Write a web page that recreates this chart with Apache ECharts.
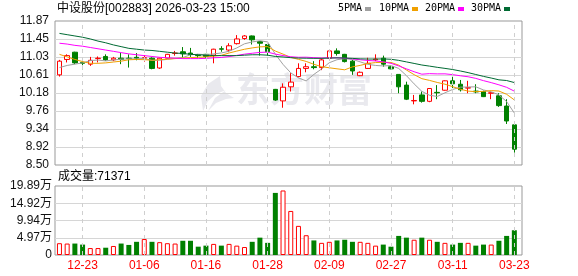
<!DOCTYPE html>
<html><head><meta charset="utf-8">
<script src="https://cdn.jsdelivr.net/npm/echarts@6/dist/echarts.min.js"></script>
<style>html,body{margin:0;padding:0;background:#fff}#c{width:578px;height:276px}</style>
</head><body><div id="c"></div>
<script>
const stockName = '中设股份';
const stockCode = '002883';
const stampText = '2026-03-23 15:00';
const lastVolume = 71371;

const dates = ['12-18','12-19','12-22','12-23','12-24','12-25','12-26','12-29','12-30','12-31',
  '01-05','01-06','01-07','01-08','01-09','01-12','01-13','01-14','01-15','01-16',
  '01-19','01-20','01-21','01-22','01-23','01-26','01-27','01-28','01-29','01-30',
  '02-02','02-03','02-04','02-05','02-06','02-09','02-10','02-11','02-12','02-13',
  '02-24','02-25','02-26','02-27','03-02','03-03','03-04','03-05','03-06','03-09',
  '03-10','03-11','03-12','03-13','03-16','03-17','03-18','03-19','03-20','03-23'];
const labelDates = ['12-23','01-06','01-16','01-28','02-09','02-27','03-11','03-23'];

const opens  = [10.61,10.97,11.14,10.90,10.86,10.99,11.04,10.96,11.00,11.00,
  11.02,11.00,11.00,10.77,11.00,11.11,11.15,11.12,11.07,11.09,
  11.07,11.22,11.19,11.34,11.46,11.52,11.39,11.32,10.27,10.00,
  10.33,10.57,10.76,10.80,10.78,11.00,11.17,11.09,10.93,10.59,
  10.76,10.96,11.00,10.80,10.62,10.37,10.00,10.14,9.99,10.20,
  10.25,10.47,10.39,10.30,10.23,10.22,10.18,10.12,9.88,9.44];
const closes = [10.93,11.06,10.89,10.88,10.95,11.00,10.96,11.00,10.97,10.99,
  11.00,11.01,10.76,11.00,11.09,11.12,11.10,11.09,11.06,11.04,
  11.21,11.21,11.29,11.45,11.52,11.43,11.35,11.15,10.02,10.32,
  10.44,10.76,10.80,10.78,10.96,11.17,11.11,10.92,10.70,10.67,
  10.88,10.98,10.86,10.75,10.33,10.04,10.01,9.99,10.29,10.19,
  10.47,10.40,10.26,10.31,10.21,10.10,10.19,9.89,9.53,8.87];
const lows   = [10.57,10.90,10.86,10.74,10.82,10.90,10.94,10.93,10.86,10.78,
  10.95,10.92,10.74,10.75,10.99,11.06,11.01,11.03,11.00,11.00,
  10.88,11.15,11.14,11.32,11.43,11.32,11.06,11.06,10.00,9.84,
  10.22,10.55,10.67,10.74,10.72,11.00,11.06,10.90,10.61,10.58,
  10.75,10.93,10.80,10.74,10.18,10.02,9.92,9.96,9.97,10.04,
  10.24,10.30,10.22,10.18,10.18,10.09,10.04,9.86,9.46,8.79];
const highs  = [10.96,11.09,11.15,10.92,11.03,11.04,11.09,11.03,11.12,11.09,
  11.12,11.07,11.02,11.01,11.10,11.17,11.26,11.24,11.10,11.10,
  11.22,11.28,11.35,11.54,11.54,11.53,11.39,11.39,10.28,10.41,
  10.65,10.88,10.88,10.93,11.00,11.17,11.23,11.10,10.96,10.69,
  11.01,11.09,11.06,10.81,10.62,10.45,10.14,10.22,10.30,10.37,
  10.48,10.57,10.49,10.47,10.39,10.24,10.20,10.18,10.04,9.44];

// volume in 万手
const volumes = [3.4,3.3,3.3,3.0,2.0,2.0,2.1,2.6,3.3,2.9,
  3.8,4.6,3.8,3.7,3.4,3.3,4.1,4.1,2.4,2.7,
  3.2,2.7,3.2,2.7,2.3,3.8,5.0,3.5,17.9,18.6,
  12.7,8.4,5.7,4.2,3.5,3.8,4.2,4.4,3.8,3.8,
  3.5,2.7,3.0,2.4,5.5,5.0,4.4,5.0,4.4,3.8,
  3.5,3.0,3.5,3.5,2.7,3.0,3.0,4.1,5.5,7.1371];

const ma5 = [10.78,10.83,10.86,10.89,10.942,10.956,10.936,10.958,10.976,10.984,
  10.984,10.994,10.946,10.952,10.972,10.996,11.014,11.08,11.092,11.082,
  11.10,11.122,11.162,11.24,11.336,11.38,11.408,11.38,11.094,10.854,
  10.656,10.538,10.468,10.62,10.748,10.894,10.964,10.988,10.972,10.914,
  10.856,10.83,10.818,10.828,10.76,10.592,10.398,10.224,10.132,10.104,
  10.19,10.268,10.322,10.326,10.33,10.256,10.214,10.14,9.984,9.716];
const ma10 = [11.09,11.03,10.97,10.92,10.88,10.88,10.89,10.91,10.93,10.963,
  10.970,10.965,10.952,10.964,10.978,10.990,11.004,11.013,11.022,11.027,
  11.048,11.068,11.121,11.166,11.209,11.24,11.265,11.271,11.167,11.095,
  11.018,10.973,10.924,10.857,10.801,10.775,10.751,10.728,10.796,10.831,
  10.875,10.897,10.903,10.90,10.837,10.724,10.614,10.521,10.48,10.432,
  10.391,10.333,10.273,10.229,10.217,10.223,10.241,10.231,10.155,10.023];
const ma20 = [11.35,11.33,11.30,11.28,11.25,11.22,11.19,11.16,11.13,11.10,
  11.08,11.06,11.04,11.02,11.01,11.00,10.99,10.99,10.99,10.995,
  11.009,11.017,11.037,11.065,11.094,11.115,11.135,11.142,11.095,11.061,
  11.033,11.021,11.023,11.012,11.005,11.008,11.008,11.00,10.982,10.963,
  10.947,10.935,10.914,10.879,10.819,10.75,10.683,10.625,10.638,10.632,
  10.633,10.615,10.588,10.565,10.527,10.474,10.428,10.376,10.318,10.228];
const ma30 = [11.58,11.55,11.52,11.49,11.45,11.40,11.36,11.31,11.27,11.23,
  11.21,11.19,11.18,11.16,11.14,11.12,11.11,11.09,11.08,11.07,
  11.06,11.06,11.06,11.06,11.07,11.08,11.08,11.07,11.04,11.028,
  11.012,11.002,10.999,10.996,10.996,11.002,11.007,11.004,10.995,10.984,
  10.98,10.979,10.983,10.974,10.949,10.913,10.877,10.84,10.814,10.786,
  10.761,10.734,10.70,10.662,10.618,10.574,10.535,10.493,10.477,10.429];

const priceMin = 8.50, priceMax = 11.87;
const priceTicks = ['8.50','8.92','9.34','9.76','10.18','10.61','11.03','11.45','11.87'];
const volMax = 19.89;
const volTicks = ['0','4.97万','9.94万','14.92万','19.89万'];
const maNames = ['5PMA','10PMA','20PMA','30PMA'];
const maColors = ['#a0a0a0','#f0a000','#ff00ff','#006a33'];

const UP = '#ff0000', DOWN = '#008000';
const chart = echarts.init(document.getElementById('c'), null, {renderer:'canvas'});

const fL = 55, fW = 467, dL = 55.6, dW = 462.6;
const mTop = 21, mH = 144, vTop = 186, vH = 69;
const pInt = (priceMax - priceMin) / 8, vInt = volMax / 4;
const candleData = opens.map((o, i) => [o, closes[i], lows[i], highs[i]]);
const volData = volumes.map((v, i) => {
  const up = closes[i] >= opens[i];
  return {value: v, itemStyle: up ? {color:'#fff', borderColor: UP, borderWidth: 1} : {color: DOWN, borderColor: DOWN, borderWidth: 0}};
});
const dashLine = (xi, yi) => ({
  type:'line', xAxisIndex: xi, yAxisIndex: yi, data: dates.map(() => '-'), z: 1, silent: true,
  markLine: {symbol:['none','none'], silent:true, animation:false, label:{show:false},
    lineStyle:{color:'#cfcfcf', width:1, type:[4,4]},
    data: labelDates.map(d => ({xAxis: d}))}
});
const txtFont = "'Liberation Sans','Noto Sans CJK SC',sans-serif";

const graphics = [
  {type:'text', x: 57, y: 3, style:{text: stockName + '[' + stockCode + '] ' + stampText, font: "12px " + txtFont, fill:'#000'}},
  {type:'text', x: 58, y: 171, style:{text: '成交量:' + lastVolume, font: "12px " + txtFont, fill:'#000'}},
  {type:'text', x: 236, y: 72, z: -1, style:{text:'东方财富', font: "bold 34px 'Noto Sans CJK SC'", fill:'#e9e9ee'}},
  {type:'polygon', z: -1, shape:{points:[[220,76],[208,84],[201,96],[203,111],[208,101],[216,94],[226,90],[215,98],[208,111],[216,103],[226,99],[234,98],[226,93],[221,86]]}, style:{fill:'#e9e9ee'}}
];
const legX = [338, 379, 425, 471];
maNames.forEach((n, k) => {
  graphics.push({type:'text', x: legX[k], y: 3, style:{text:n, font:"10px 'DejaVu Sans Mono'", fill:'#000'}});
  graphics.push({type:'rect', shape:{x: legX[k] + n.length*6 + 3, y: 7, width: 6, height: 4}, style:{fill: maColors[k]}});
});

chart.setOption({
  animation: false,
  backgroundColor: '#fff',
  grid: [
    {left: fL, top: mTop, width: fW, height: mH, show: true, borderColor:'#999', borderWidth: 1, backgroundColor:'transparent'},
    {left: dL, top: mTop, width: dW, height: mH},
    {left: fL, top: vTop, width: fW, height: vH, show: true, borderColor:'#999', borderWidth: 1, backgroundColor:'transparent'},
    {left: dL, top: vTop, width: dW, height: vH}
  ],
  xAxis: [
    {gridIndex:0, type:'value', min:0, max:1, show:false},
    {gridIndex:1, type:'category', data: dates, boundaryGap: true, show:false},
    {gridIndex:2, type:'value', min:0, max:1, show:false},
    {gridIndex:3, type:'category', data: dates, boundaryGap: true,
      axisLine:{show:false}, axisTick:{show:false}, splitLine:{show:false},
      axisLabel:{interval: (idx, val) => labelDates.includes(val), color: UP, fontSize: 12, margin: 5, fontFamily: 'Liberation Sans', hideOverlap: false}}
  ],
  yAxis: [
    {gridIndex:0, type:'value', min: priceMin, max: priceMax, interval: pInt,
      axisLine:{show:false}, axisTick:{show:false},
      splitLine:{show:true, showMinLine:false, showMaxLine:false, lineStyle:{color:'#d6d6d6', width:1}},
      axisLabel:{color:'#111', fontSize:12, fontFamily:'Liberation Sans', margin:6,
        formatter: v => priceTicks[Math.round((v - priceMin) / pInt)]}},
    {gridIndex:1, type:'value', min: priceMin, max: priceMax, show:false},
    {gridIndex:2, type:'value', min: 0, max: volMax, interval: vInt,
      axisLine:{show:false}, axisTick:{show:false},
      splitLine:{show:true, showMinLine:false, showMaxLine:false, lineStyle:{color:'#d6d6d6', width:1}},
      axisLabel:{color:'#111', fontSize:12, fontFamily:"'Liberation Sans','Noto Sans CJK SC'", margin:3,
        formatter: v => volTicks[Math.round(v / vInt)]}},
    {gridIndex:3, type:'value', min: 0, max: volMax, show:false}
  ],
  series: [
    dashLine(1, 1),
    dashLine(3, 3),
    {type:'candlestick', xAxisIndex:1, yAxisIndex:1, data: candleData, barWidth: 5, z: 3,
      itemStyle:{color:'#fff', color0: DOWN, borderColor: UP, borderColor0: DOWN, borderWidth: 1}},
    ...[ma5, ma10, ma20, ma30].map((d, k) => ({
      type:'line', xAxisIndex:1, yAxisIndex:1, data: d, showSymbol:false, symbol:'none', z: 4,
      lineStyle:{color: maColors[k], width: 1}, silent: true})),
    {type:'bar', xAxisIndex:3, yAxisIndex:3, data: volData, barWidth: 5, z: 3}
  ],
  graphic: graphics
});
</script></body></html>
